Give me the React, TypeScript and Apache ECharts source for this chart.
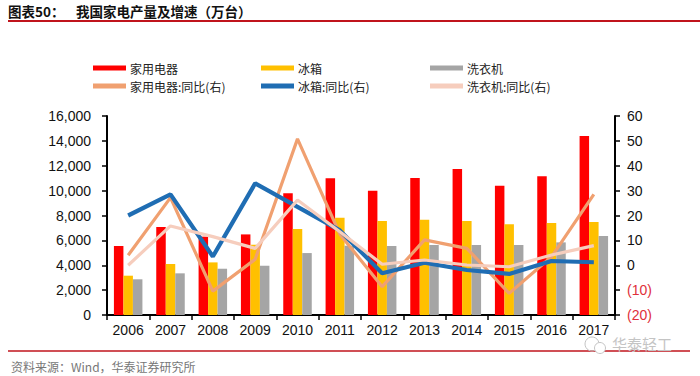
import React, { useEffect, useRef } from "react";
import * as echarts from "echarts";

const years = ["2006", "2007", "2008", "2009", "2010", "2011", "2012", "2013", "2014", "2015", "2016", "2017"];
const appliance = [5550, 7070, 6300, 6480, 9780, 10990, 9990, 11010, 11740, 10400, 11150, 14390];
const fridge = [3160, 4100, 4230, 5650, 6910, 7820, 7560, 7660, 7560, 7290, 7400, 7480];
const washer = [2870, 3350, 3720, 3960, 4980, 5570, 5550, 5630, 5630, 5630, 5840, 6350];
const applianceYoY = [4, 27.2, -10.4, 2.4, 50.8, 12.5, -8.6, 10.2, 6.8, -11.3, 3.4, 28.5];
const fridgeYoY = [20, 28.5, 3.5, 32.9, 23.5, 14, -3.2, 1, -1.9, -3.5, 1.7, 1.2];
const washerYoY = [0, 15.8, 11.5, 6.8, 26.2, 13.5, 0.4, 2.1, 0.1, -0.6, 4.1, 7.9];

const names = ["家用电器", "冰箱", "洗衣机", "家用电器:同比(右)", "冰箱:同比(右)", "洗衣机:同比(右)"];
const colors = ["#FF0000", "#FFC000", "#A5A5A5", "#F0A070", "#1F6DB3", "#F6CDBD"];

const CJK = '"Noto Sans CJK SC", sans-serif';
const LAT = '"Liberation Sans", Arial, sans-serif';

export default function App() {
  const ref = useRef<HTMLDivElement>(null);
  useEffect(() => {
    if (!ref.current) return;
    const chart = echarts.init(ref.current, undefined, { renderer: "svg" });
    const legendBase = {
      orient: "vertical",
      top: 57,
      itemWidth: 33,
      itemHeight: 5,
      itemGap: 6,
      icon: "rect",
      selectedMode: false,
      textStyle: { fontFamily: CJK, fontSize: 12, color: "#222", padding: [0, 0, 0, -1] },
    };
    const barSeries = [appliance, fridge, washer].map((d, i) => ({
      name: names[i],
      type: "bar",
      data: d,
      barWidth: 9.5,
      barGap: "0%",
      itemStyle: { color: colors[i] },
    }));
    const lineSeries = [applianceYoY, fridgeYoY, washerYoY].map((d, i) => ({
      name: names[i + 3],
      type: "line",
      yAxisIndex: 1,
      data: d,
      symbol: "none",
      color: colors[i + 3],
      lineStyle: { color: colors[i + 3], width: i === 1 ? 4.2 : 3.2 },
      z: 3 + i,
    }));
    chart.setOption({
      animation: false,
      grid: { left: 107, right: 85, top: 116, bottom: 61 },
      legend: [
        { ...legendBase, left: 88, data: [names[0], names[3]] },
        { ...legendBase, left: 256, data: [names[1], names[4]] },
        { ...legendBase, left: 425, data: [names[2], names[5]] },
      ],
      xAxis: {
        type: "category",
        data: years,
        axisLine: { lineStyle: { color: "#000", width: 2 } },
        axisTick: { show: true, length: 5, lineStyle: { color: "#000", width: 1.5 } },
        axisLabel: { color: "#111", fontFamily: LAT, fontSize: 14, margin: 8 },
      },
      yAxis: [
        {
          type: "value",
          min: 0,
          max: 16000,
          interval: 2000,
          splitLine: { show: false },
          axisLine: { show: true, lineStyle: { color: "#000", width: 2 } },
          axisTick: { show: true, length: 5, lineStyle: { color: "#000", width: 1.5 } },
          axisLabel: {
            color: "#111",
            fontFamily: LAT,
            fontSize: 14,
            margin: 16,
            formatter: (v: number) => v.toLocaleString("en-US"),
          },
        },
        {
          type: "value",
          min: -20,
          max: 60,
          interval: 10,
          position: "right",
          splitLine: { show: false },
          axisLine: { show: true, lineStyle: { color: "#000", width: 2 } },
          axisTick: { show: true, length: 5, lineStyle: { color: "#000", width: 1.5 } },
          axisLabel: {
            color: "#111",
            fontFamily: LAT,
            fontSize: 14,
            margin: 12,
            formatter: (v: number) => (v < 0 ? `{neg|(${-v})}` : `${v}`),
            rich: { neg: { color: "#E0303A", fontFamily: LAT, fontSize: 14 } },
          },
        },
      ],
      series: [...barSeries, ...lineSeries],
      graphic: [
        {
          type: "text",
          left: 8,
          top: 4,
          style: { text: "图表50：", font: `bold 13.5px ${CJK}`, fill: "#111" },
        },
        {
          type: "text",
          left: 76,
          top: 4,
          style: { text: "我国家电产量及增速（万台）", font: `bold 13.5px ${CJK}`, fill: "#111" },
        },
        {
          type: "line",
          shape: { x1: 8, y1: 21, x2: 700, y2: 21 },
          style: { stroke: "#C0141C", lineWidth: 2 },
        },
        {
          type: "line",
          shape: { x1: 8, y1: 351, x2: 690, y2: 351 },
          style: { stroke: "#C0141C", lineWidth: 1.5 },
        },
        {
          type: "text",
          left: 11,
          top: 360,
          style: { text: "资料来源：Wind，华泰证券研究所", font: `12px ${CJK}`, fill: "#777" },
        },
        {
          type: "circle",
          shape: { cx: 592, cy: 344, r: 7 },
          style: { fill: "none", stroke: "#c4c4c4", lineWidth: 1 },
        },
        {
          type: "circle",
          shape: { cx: 600, cy: 348, r: 5.5 },
          style: { fill: "#fff", stroke: "#c4c4c4", lineWidth: 1 },
        },
        {
          type: "text",
          left: 612,
          top: 336,
          style: { text: "华泰轻工", font: `15px ${CJK}`, fill: "#c4c4c4" },
        },
      ],
    });
    return () => chart.dispose();
  }, []);
  return (
    <div
      ref={ref}
      style={{ position: "fixed", left: 0, top: 0, width: 700, height: 376, background: "#fff" }}
    />
  );
}
